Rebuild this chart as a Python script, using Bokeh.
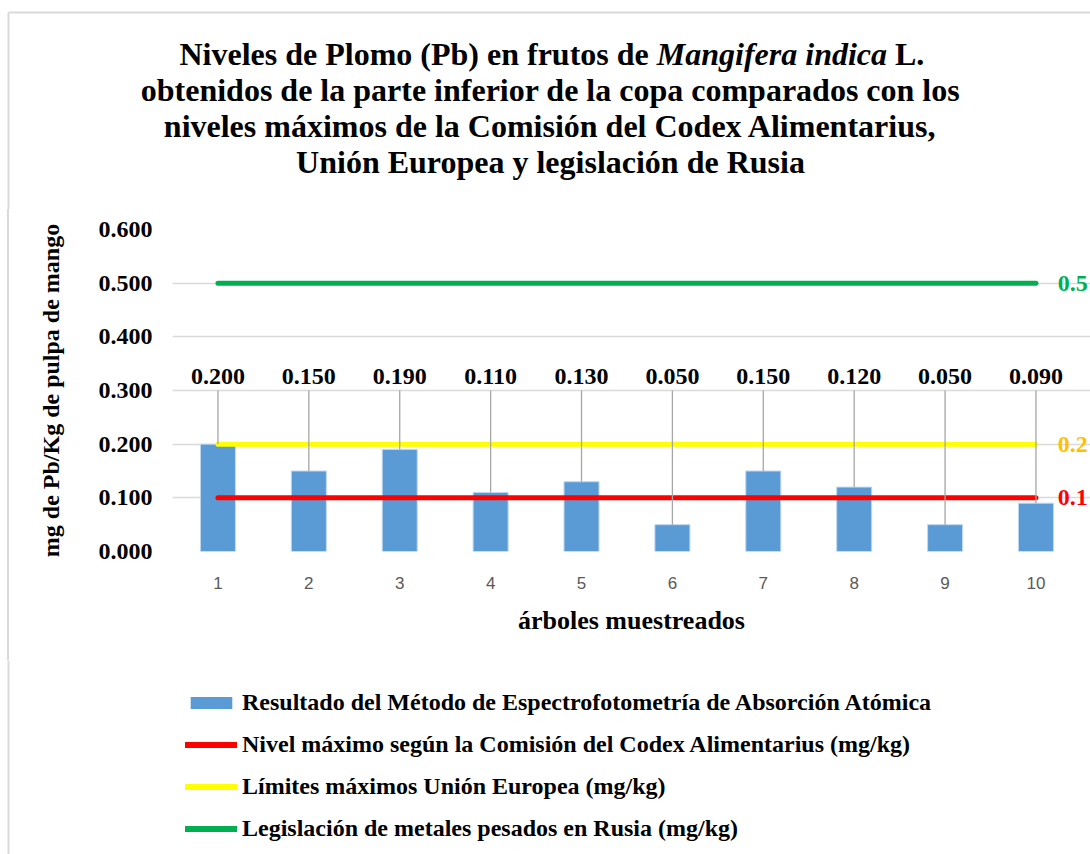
from bokeh.plotting import figure
from bokeh.layouts import column, row
from bokeh.models import (ColumnDataSource, Label, Legend, LegendItem, FixedTicker,
                          PrintfTickFormatter, Range1d, Spacer)
from bokeh.core.properties import value
from bokeh.embed import file_html
from bokeh.resources import INLINE

# ---- data ----
trees = [1, 2, 3, 4, 5, 6, 7, 8, 9, 10]
pb = [0.200, 0.150, 0.190, 0.110, 0.130, 0.050, 0.150, 0.120, 0.050, 0.090]
codex_limit = 0.1
eu_limit = 0.2
rusia_limit = 0.5
y_ticks = [0.0, 0.1, 0.2, 0.3, 0.4, 0.5, 0.6]
x_tick_labels = [str(t) for t in trees]

series_names = [
    "Resultado del Método de Espectrofotometría de Absorción Atómica",
    "Nivel máximo según la Comisión del Codex Alimentarius (mg/kg)",
    "Límites máximos Unión Europea (mg/kg)",
    "Legislación de metales pesados en Rusia (mg/kg)",
]
title_line1 = ["Niveles de Plomo (Pb) en frutos de", "Mangifera indica", "L."]
title_lines = [
    "obtenidos de la parte inferior de la copa comparados con los",
    "niveles máximos de la Comisión del Codex Alimentarius,",
    "Unión Europea y legislación de Rusia",
]
y_title = "mg de Pb/Kg de pulpa de mango"
x_title = "árboles muestreados"

SERIF = "Liberation Serif"
BLUE = "#5B9BD5"
BAR_EDGE = "#bdd7ee"
RED = "#FF0000"
YELLOW = "#FFFF00"
GREEN = "#00B050"
BORDER = "#d9d9d9"

W = 1090
H_TITLE, H_MAIN, H_LEG = 209, 451, 194


def blank(width, height, xr, yr):
    f = figure(width=width, height=height, output_backend="svg", toolbar_location=None,
               x_range=xr, y_range=yr, x_axis_location=None, y_axis_location=None,
               min_border=0)
    f.grid.visible = False
    f.outline_line_color = None
    f.background_fill_color = "white"
    f.border_fill_color = "white"
    return f


# ---------------- title strip ----------------
tf = blank(W, H_TITLE, Range1d(0, W), Range1d(H_TITLE, 0))
tf.segment(x0=[8, 8], y0=[12, 12], x1=[W, 8], y1=[12, H_TITLE],
           line_color=BORDER, line_width=2)
TFS = "32px"
line1_x = [179.0, 656.3, 894.5]
line1_style = ["bold", "bold italic", "bold"]
for txt, x0, st in zip(title_line1, line1_x, line1_style):
    tf.text(x=[x0], y=[53], text=[txt], text_font=value(SERIF), text_font_style=st,
            text_font_size=TFS, text_color="black", text_align="left",
            text_baseline="alphabetic")
tf.text(x=[550, 550, 550], y=[89, 125, 161], text=title_lines, text_font=value(SERIF),
        text_font_style="bold", text_font_size=TFS, text_color="black",
        text_align="center", text_baseline="alphabetic")

# ---------------- left border strip ----------------
bf = Spacer(width=9, height=H_MAIN,
            styles={"background": "linear-gradient(90deg, #ffffff 0px, #ffffff 7px, "
                                  "#d9d9d9 7px, #d9d9d9 9px)"})

# ---------------- main chart ----------------
p = figure(width=W - 9, height=H_MAIN, output_backend="svg", toolbar_location=None,
           x_range=Range1d(0.5, 10.6), y_range=Range1d(0, 0.6),
           min_border_left=163, min_border_right=0, min_border_top=20,
           min_border_bottom=109)
p.outline_line_color = None
p.background_fill_color = "white"
p.border_fill_color = "white"

p.xgrid.visible = False
p.ygrid.ticker = FixedTicker(ticks=y_ticks)
p.ygrid.grid_line_color = BORDER
p.ygrid.grid_line_width = 1.5

p.yaxis.ticker = FixedTicker(ticks=y_ticks)
p.yaxis.formatter = PrintfTickFormatter(format="%.3f")
p.yaxis.axis_line_color = None
p.yaxis.major_tick_line_color = None
p.yaxis.minor_tick_line_color = None
p.yaxis.major_label_standoff = 14
p.yaxis.major_label_text_font = SERIF
p.yaxis.major_label_text_font_style = "bold"
p.yaxis.major_label_text_font_size = "24px"
p.yaxis.major_label_text_color = "black"
p.yaxis.axis_label = y_title
p.yaxis.axis_label_text_font = SERIF
p.yaxis.axis_label_text_font_style = "bold"
p.yaxis.axis_label_text_font_size = "24px"
p.yaxis.axis_label_text_color = "black"
p.yaxis.axis_label_standoff = 32

p.xaxis.ticker = FixedTicker(ticks=trees)
p.xaxis.major_label_overrides = {t: s for t, s in zip(trees, x_tick_labels)}
p.xaxis.axis_line_color = None
p.xaxis.major_tick_line_color = None
p.xaxis.minor_tick_line_color = None
p.xaxis.major_label_standoff = 19
p.xaxis.major_label_text_font = "Liberation Sans"
p.xaxis.major_label_text_font_size = "17px"
p.xaxis.major_label_text_color = "#595959"
p.xaxis.axis_label = x_title
p.xaxis.axis_label_text_font = SERIF
p.xaxis.axis_label_text_font_style = "bold"
p.xaxis.axis_label_text_font_size = "26px"
p.xaxis.axis_label_text_color = "black"
p.xaxis.axis_label_standoff = 14

src = ColumnDataSource(dict(x=trees, y=pb, lab=["%.3f" % v for v in pb],
                            ytop=[0.3] * len(trees), ylab=[0.326] * len(trees)))

p.vbar(x="x", top="y", width=0.385, source=src, fill_color=BLUE,
       line_color=BAR_EDGE, line_width=1)
p.line(trees, [codex_limit] * len(trees), line_color=RED, line_width=5, line_cap="round")
p.line(trees, [eu_limit] * len(trees), line_color=YELLOW, line_width=5, line_cap="round")
p.line(trees, [rusia_limit] * len(trees), line_color=GREEN, line_width=5, line_cap="round")

p.segment(x0="x", y0="ytop", x1="x", y1="y", source=src, line_color="#a6a6a6",
          line_width=1.3)
p.text(x="x", y="ylab", text="lab", source=src, text_font=value(SERIF),
       text_font_style="bold", text_font_size="24px", text_color="black",
       text_align="center", text_baseline="middle")

for val, col in [(rusia_limit, GREEN), (eu_limit, "#FFC000"), (codex_limit, RED)]:
    p.add_layout(Label(x=10.24, y=val, text="%g" % val, text_font=SERIF,
                       text_font_style="bold", text_font_size="24px",
                       text_color=col, text_align="left", text_baseline="middle"))

# ---------------- legend strip ----------------
lf = blank(W, H_LEG, Range1d(0, W), Range1d(0, H_LEG))
lf.segment(x0=[8], y0=[0], x1=[8], y1=[H_LEG], line_color=BORDER, line_width=2)
# legend swatches (kept off-canvas; only their legend glyphs show)
g_bar = lf.vbar(x=[-100], top=[-100], bottom=[-120], width=1, fill_color=BLUE,
                line_color=None)
g_red = lf.line(x=[-100, -90], y=[-100, -100], line_color=RED, line_width=6,
                line_cap="round")
g_yel = lf.line(x=[-100, -90], y=[-100, -100], line_color=YELLOW, line_width=6,
                line_cap="round")
g_grn = lf.line(x=[-100, -90], y=[-100, -100], line_color=GREEN, line_width=6,
                line_cap="round")
legend = Legend(items=[LegendItem(label=series_names[0], renderers=[g_bar]),
                       LegendItem(label=series_names[1], renderers=[g_red]),
                       LegendItem(label=series_names[2], renderers=[g_yel]),
                       LegendItem(label=series_names[3], renderers=[g_grn])],
                location=(185, 12), orientation="vertical",
                glyph_width=52, glyph_height=15, label_height=28,
                label_standoff=5, spacing=14, padding=0, margin=0,
                border_line_color=None, background_fill_alpha=0,
                label_text_font=SERIF, label_text_font_style="bold",
                label_text_font_size="24px", label_text_color="black")
lf.add_layout(legend)

layout = column(tf, row(bf, p), lf)
open("out.html", "w").write(file_html(layout, INLINE))
